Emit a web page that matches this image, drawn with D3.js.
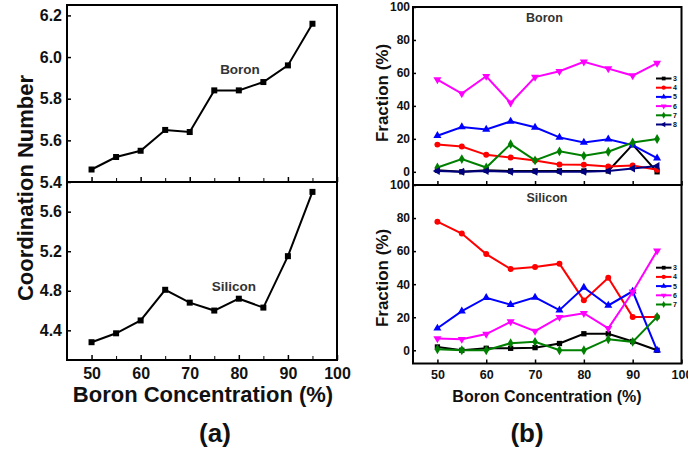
<!DOCTYPE html>
<html>
<head>
<meta charset="utf-8">
<script src="https://cdn.jsdelivr.net/npm/d3@7"></script>
<style>
body { margin: 0; background: #fff; }
text { font-family: "Liberation Sans", Arial, sans-serif; font-weight: bold; }
</style>
</head>
<body>
<div id="chart"></div>
<script>
'use strict'

// boron concentration (%) on the x axis
const conc = [50, 55, 60, 65, 70, 75, 80, 85, 90, 95];

// (a) coordination numbers
const boronCN   = [5.46, 5.52, 5.55, 5.65, 5.64, 5.84, 5.84, 5.88, 5.96, 6.16];
const siliconCN = [4.28, 4.37, 4.50, 4.81, 4.68, 4.60, 4.72, 4.63, 5.15, 5.80];

const cnTicksB = [5.4, 5.6, 5.8, 6.0, 6.2];
const cnTicksS = [4.4, 4.8, 5.2, 5.6];
const concTicks = [50, 60, 70, 80, 90, 100];
const concMinor = [55, 65, 75, 85, 95];
const fracTicks = [0, 20, 40, 60, 80, 100];

// (b) fraction of each coordination number
const sizeLabels = ["3", "4", "5", "6", "7", "8"];
const sizeColors = ["#000000", "#ff0000", "#0000ff", "#ff00ff", "#008000", "#000080"];

const boron3 = [1, 0, 1, 0.5, 0.5, 0.5, 0.5, 0.5, 16.5, 0];
const boron4 = [16.5, 15.4, 10.3, 8.7, 6.9, 4.5, 4.3, 3.3, 3.8, 1.2];
const boron5 = [21.9, 27.2, 25.7, 30.6, 27, 20.9, 17.8, 19.8, 16.2, 8.3];
const boron6 = [56, 47.5, 58, 41.8, 57.5, 61, 66.7, 62.6, 58.4, 66];
const boron7 = [2.6, 7.7, 2.6, 16.8, 6.9, 12.4, 9.7, 12.2, 17.8, 19.9];
const boron8 = [0.5, 0, 0.5, 0, 0, 0, 0, 0.5, 2, 3.5];

const silicon3 = [2, 0, 1.2, 1.2, 1.6, 4.1, 10, 10, 5.3, 0];
const silicon4 = [77.8, 70.6, 58.2, 49.2, 50.4, 52.4, 30.2, 43.9, 20.2, 20.2];
const silicon5 = [13.3, 23.7, 31.8, 27.6, 32, 24.3, 38, 27.1, 35.7, 0];
const silicon6 = [7.1, 6.7, 9.8, 17.3, 11.6, 20, 22.4, 13.3, 35.3, 60.2];
const silicon7 = [0.6, 0, 0, 4.3, 5.1, 0, 0, 6.7, 5.1, 20.2];

const boronSeries = [boron3, boron4, boron5, boron6, boron7, boron8];
const siliconSeries = [silicon3, silicon4, silicon5, silicon6, silicon7];

const width = 688, height = 452;

const svg = d3.select("#chart").append("svg")
  .attr("width", width)
  .attr("height", height);

// marker shapes, origin style: square, circle, up, down, diamond, left
const shapes = [
  {type: d3.symbolSquare, rot: 0},
  {type: d3.symbolCircle, rot: 0},
  {type: d3.symbolTriangle, rot: 0},
  {type: d3.symbolTriangle, rot: 180},
  {type: d3.symbolDiamond, rot: 0},
  {type: d3.symbolTriangle, rot: -90}
];

function fmt1(d) { return d3.format(".1f")(d) }

// ---------- (a) ----------
const xL = d3.scaleLinear().domain([45, 100]).range([67, 337]);
const yLT = d3.scaleLinear().domain([5.4, 6.25]).range([182, 5]);
const yLB = d3.scaleLinear().domain([4.1, 5.9]).range([360, 182]);

function cnPanel(yScale, values, ticks, showXLabels){
  const g = svg.append("g");
  const [y0, y1] = yScale.range();

  // inward minor + major x ticks along the bottom edge
  g.append("g")
    .attr("transform", "translate(0," + y0 + ")")
    .call(d3.axisBottom(xL).tickValues(concMinor).tickSize(-4).tickFormat(""))
    .call(a => a.select(".domain").remove());
  const xa = g.append("g")
    .attr("transform", "translate(0," + y0 + ")")
    .call(d3.axisBottom(xL).tickValues(concTicks).tickSize(-5).tickPadding(8)
      .tickFormat(showXLabels ? d3.format("d") : ""));
  xa.select(".domain").remove();
  xa.selectAll("text").style("font-size", "16px").attr("fill", "#111");
  xa.selectAll("line").attr("stroke-width", 1.5);

  const ya = g.append("g")
    .attr("transform", "translate(" + xL.range()[0] + ",0)")
    .call(d3.axisLeft(yScale).tickValues(ticks).tickSize(-4).tickPadding(5).tickFormat(fmt1));
  ya.select(".domain").remove();
  ya.selectAll("text").style("font-size", "16px").attr("fill", "#111");
  ya.selectAll("line").attr("stroke-width", 1.5);

  g.append("rect")
    .attr("x", xL.range()[0]).attr("y", y1)
    .attr("width", xL.range()[1] - xL.range()[0])
    .attr("height", y0 - y1)
    .attr("fill", "none").attr("stroke", "#000").attr("stroke-width", 2);

  const pts = conc.map((c, i) => [c, values[i]]);
  g.append("path")
    .datum(pts)
    .attr("fill", "none")
    .attr("stroke", "#000")
    .attr("stroke-width", 2)
    .attr("d", d3.line().x(d => xL(d[0])).y(d => yScale(d[1])));
  g.selectAll("rect.pt").data(pts).enter().append("rect")
    .attr("class", "pt")
    .attr("x", d => xL(d[0]) - 3).attr("y", d => yScale(d[1]) - 3)
    .attr("width", 6).attr("height", 6)
    .attr("fill", "#000");
  return g;
}

cnPanel(yLT, boronCN, cnTicksB, false);
cnPanel(yLB, siliconCN, cnTicksS, true);

svg.append("text").attr("x", 240).attr("y", 74).attr("text-anchor", "middle")
  .style("font-size", "13.5px").attr("fill", "#333").text("Boron");
svg.append("text").attr("x", 234).attr("y", 290.5).attr("text-anchor", "middle")
  .style("font-size", "13.5px").attr("fill", "#333").text("Silicon");

svg.append("text")
  .attr("transform", "translate(33,188) rotate(-90)")
  .attr("text-anchor", "middle")
  .style("font-size", "22px").attr("fill", "#111")
  .text("Coordination Number");
svg.append("text").attr("x", 203).attr("y", 402).attr("text-anchor", "middle")
  .style("font-size", "22px").attr("fill", "#111")
  .text("Boron Concentration (%)");
svg.append("text").attr("x", 215).attr("y", 442).attr("text-anchor", "middle")
  .style("font-size", "26px").attr("fill", "#111").text("(a)");

// ---------- (b) ----------
const xR = d3.scaleLinear().domain([45, 100]).range([413, 681.5]);
const yRT = d3.scaleLinear().domain([-8, 100]).range([185, 7]);
const yRB = d3.scaleLinear().domain([-8, 100]).range([363.5, 185]);

function fracPanel(yScale, series, showXLabels, legendTop){
  const g = svg.append("g");
  const [y0, y1] = yScale.range();

  const xa = g.append("g")
    .attr("transform", "translate(0," + y0 + ")")
    .call(d3.axisBottom(xR).tickValues(concTicks).tickSize(-4).tickPadding(7)
      .tickFormat(showXLabels ? d3.format("d") : ""));
  xa.select(".domain").remove();
  xa.selectAll("text").style("font-size", "12.5px").attr("fill", "#111");
  xa.selectAll("line").attr("stroke-width", 1.5);

  const ya = g.append("g")
    .attr("transform", "translate(" + xR.range()[0] + ",0)")
    .call(d3.axisLeft(yScale).tickValues(fracTicks).tickSize(-3).tickPadding(3));
  ya.select(".domain").remove();
  ya.selectAll("text").style("font-size", "12px").attr("fill", "#111");
  ya.selectAll("line").attr("stroke-width", 1.5);

  g.append("rect")
    .attr("x", xR.range()[0]).attr("y", y1)
    .attr("width", xR.range()[1] - xR.range()[0])
    .attr("height", y0 - y1)
    .attr("fill", "none").attr("stroke", "#000").attr("stroke-width", 2);

  const line = d3.line().x(d => xR(d[0])).y(d => yScale(d[1]));
  series.forEach(function(vals, k){
    const pts = conc.map((c, i) => [c, vals[i]]);
    const col = sizeColors[k];
    g.append("path").datum(pts)
      .attr("fill", "none").attr("stroke", col).attr("stroke-width", 2)
      .attr("d", line);
    g.selectAll(".m" + k).data(pts).enter().append("path")
      .attr("class", "m" + k)
      .attr("d", d3.symbol().type(shapes[k].type).size(28))
      .attr("transform", d => "translate(" + xR(d[0]) + "," + yScale(d[1]) + ") rotate(" + shapes[k].rot + ")")
      .attr("fill", col);
  });

  // legend
  const lg = g.append("g");
  series.forEach(function(vals, k){
    const yy = legendTop + k * 9.2;
    const col = sizeColors[k];
    lg.append("line").attr("x1", 656).attr("x2", 671.5).attr("y1", yy).attr("y2", yy)
      .attr("stroke", col).attr("stroke-width", 2);
    lg.append("path")
      .attr("d", d3.symbol().type(shapes[k].type).size(14))
      .attr("transform", "translate(663.7," + yy + ") rotate(" + shapes[k].rot + ")")
      .attr("fill", col);
    lg.append("text").attr("x", 673).attr("y", yy).attr("dy", "0.35em")
      .style("font-size", "7px").attr("fill", "#111").text(sizeLabels[k]);
  });
  return g;
}

fracPanel(yRT, boronSeries, false, 78.5);
fracPanel(yRB, siliconSeries, true, 267.7);

svg.append("text").attr("x", 544.5).attr("y", 21.5).attr("text-anchor", "middle")
  .style("font-size", "12.5px").attr("fill", "#333").text("Boron");
svg.append("text").attr("x", 547).attr("y", 201.5).attr("text-anchor", "middle")
  .style("font-size", "12.5px").attr("fill", "#333").text("Silicon");

svg.append("text")
  .attr("transform", "translate(388,93) rotate(-90)")
  .attr("text-anchor", "middle")
  .style("font-size", "17px").attr("fill", "#111")
  .text("Fraction (%)");
svg.append("text")
  .attr("transform", "translate(388,278) rotate(-90)")
  .attr("text-anchor", "middle")
  .style("font-size", "17px").attr("fill", "#111")
  .text("Fraction (%)");
svg.append("text").attr("x", 547).attr("y", 402).attr("text-anchor", "middle")
  .style("font-size", "16px").attr("fill", "#111")
  .text("Boron Concentration (%)");
svg.append("text").attr("x", 527).attr("y", 442).attr("text-anchor", "middle")
  .style("font-size", "26px").attr("fill", "#111").text("(b)");
</script>
</body>
</html>
